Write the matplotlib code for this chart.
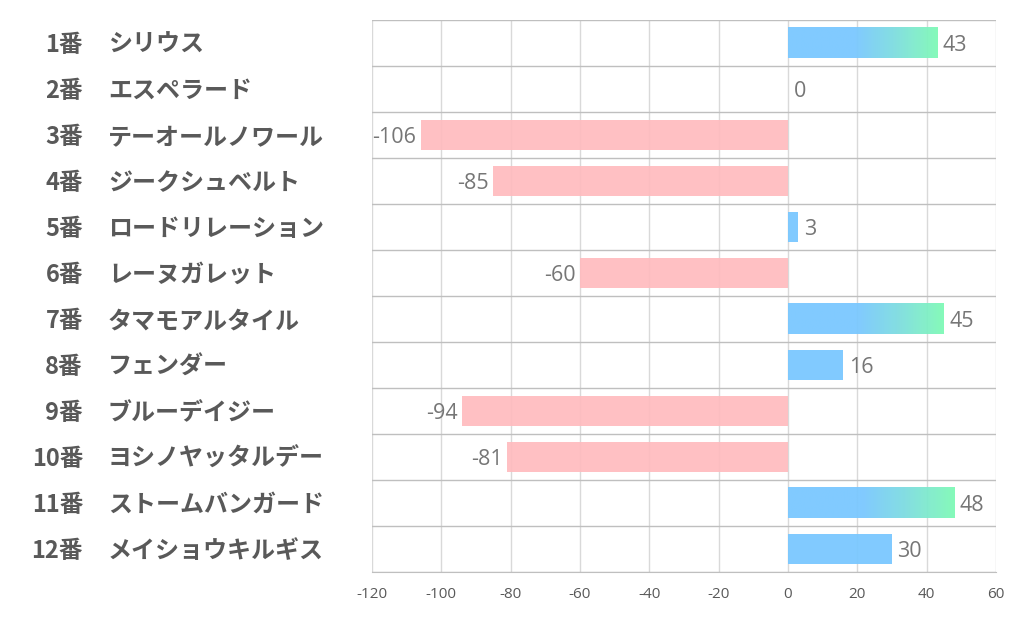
import matplotlib
matplotlib.use("Agg")
import matplotlib.pyplot as plt
import numpy as np
from matplotlib.colors import LinearSegmentedColormap

numbers = ["1番", "2番", "3番", "4番", "5番", "6番", "7番", "8番", "9番", "10番", "11番", "12番"]
names = ["シリウス", "エスペラード", "テーオールノワール", "ジークシュベルト", "ロードリレーション",
         "レーヌガレット", "タマモアルタイル", "フェンダー", "ブルーデイジー", "ヨシノヤッタルデー",
         "ストームバンガード", "メイショウキルギス"]
values = [43, 0, -106, -85, 3, -60, 45, 16, -94, -81, 48, 30]
xticks = [-120, -100, -80, -60, -40, -20, 0, 20, 40, 60]

plt.rcParams['font.family'] = ['Noto Sans CJK JP', 'DejaVu Sans']

fig = plt.figure(figsize=(10.22, 6.26), dpi=100)
ax = fig.add_axes([372/1022, 1-572/626, 624/1022, 552/626])

n = len(values)
ys = np.arange(n)

blue = (122/255, 200/255, 255/255)
green = (128/255, 250/255, 182/255)
pink = (255/255, 187/255, 190/255)
cmap = LinearSegmentedColormap.from_list("bg", [(0, blue), (0.45, blue), (0.7, (125/255, 220/255, 225/255)), (1, green)])

# grid
for xv in xticks:
    ax.axvline(xv, color="#D9D9D9", lw=1, zorder=0)
for k in range(n + 1):
    ax.axhline(k - 0.5, color="#BFBFBF", lw=1, zorder=0)

bh = 0.67
for y, v in zip(ys, values):
    if v < 0:
        ax.barh(y, v, height=bh, color=pink, alpha=0.92, zorder=2, lw=0)
    elif v > 0:
        if v >= 40:
            grad = np.linspace(0, 1, 256).reshape(1, -1)
            ax.imshow(grad, cmap=cmap, extent=[0, v, y + bh/2, y - bh/2], aspect="auto",
                      zorder=2, alpha=0.95, interpolation="bilinear")
        else:
            ax.barh(y, v, height=bh, color=blue, alpha=0.95, zorder=2, lw=0)
    # value labels
    if v < 0:
        ax.annotate(str(v), (v, y), xytext=(-3, -2), textcoords="offset points",
                    ha="right", va="center", fontsize=15.5, color="#767676",
                    family=["Open Sans", "DejaVu Sans"], zorder=3)
    else:
        ax.annotate(str(v), (v, y), xytext=(4, -2), textcoords="offset points",
                    ha="left", va="center", fontsize=15.5, color="#767676",
                    family=["Open Sans", "DejaVu Sans"], zorder=3)

ax.set_xlim(-120, 60)
ax.set_ylim(n - 0.5, -0.5)

# category labels
tr = ax.get_yaxis_transform()
for y, num, nm in zip(ys, numbers, names):
    ax.annotate(num, ((83 - 372) / 624, y), xycoords=tr, xytext=(0, -1.5), textcoords="offset points",
                ha="right", va="center", fontsize=17, fontweight="bold", color="#595959",
                annotation_clip=False)
    ax.annotate(nm, ((108 - 372) / 624, y), xycoords=tr, xytext=(0, -1.5), textcoords="offset points",
                ha="left", va="center", fontsize=17.3, fontweight="bold", color="#595959",
                annotation_clip=False)

ax.set_xticks(xticks)
ax.set_xticklabels([str(t) for t in xticks], family=["Open Sans", "DejaVu Sans"],
                   fontsize=11, color="#595959")
ax.set_yticks([])
ax.tick_params(axis="x", length=0, pad=11)
for s in ["top", "right", "left"]:
    ax.spines[s].set_visible(False)
ax.spines["bottom"].set_color("#BFBFBF")

fig.savefig("out.png", dpi=100, facecolor="white")
